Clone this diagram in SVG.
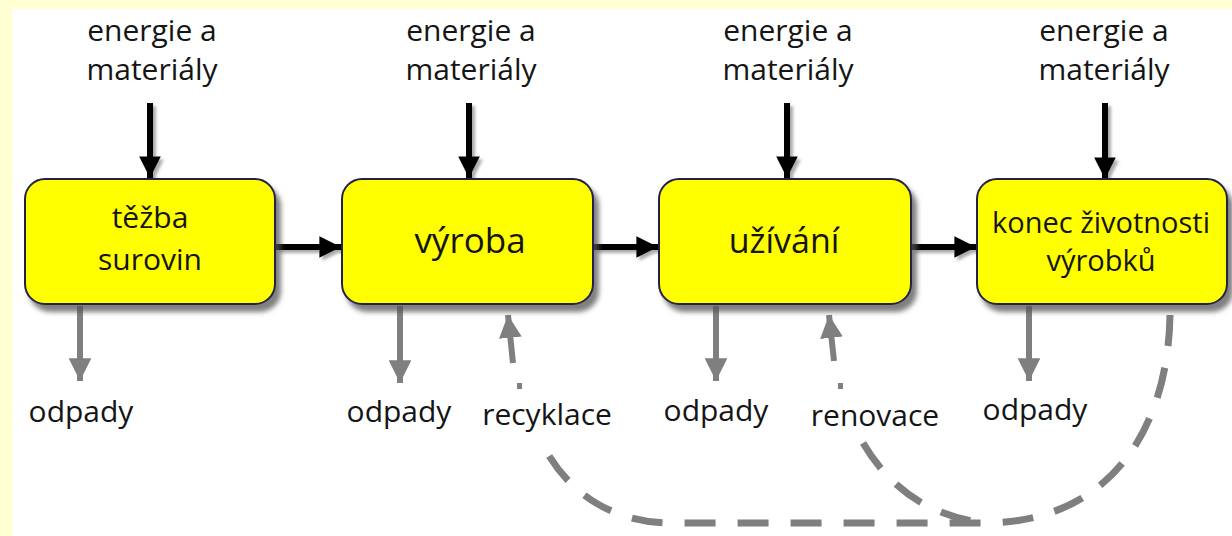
<svg xmlns="http://www.w3.org/2000/svg" width="1232" height="536" viewBox="0 0 1232 536">
  <defs>
    <style>
      .t { font-family: "Open Sans", "DejaVu Sans", sans-serif; fill: #151515; text-anchor: middle; }
      .top { font-size: 30px; }
      .lbl { font-size: 30px; }
      .box { fill: #FFFF00; stroke: #23234a; stroke-width: 2; filter: url(#sh); }
      .blk { stroke: #000; stroke-width: 6; fill: none; filter: url(#lsh); }
      .gry { stroke: #7f7f7f; stroke-width: 6; fill: none; }
      .dash { stroke: #7f7f7f; stroke-width: 7; fill: none; stroke-dasharray: 31 22; }
    </style>
    <filter id="sh" x="-10%" y="-10%" width="125%" height="130%">
      <feDropShadow dx="5" dy="7" stdDeviation="2.5" flood-color="#555" flood-opacity="0.75"/>
    </filter>
    <filter id="lsh" filterUnits="userSpaceOnUse" x="0" y="0" width="1232" height="536">
      <feDropShadow dx="3" dy="3" stdDeviation="1.5" flood-color="#555" flood-opacity="0.5"/>
    </filter>
    <marker id="ab" viewBox="0 0 10 10" refX="10" refY="5" markerWidth="3.6" markerHeight="3.6" orient="auto" markerUnits="strokeWidth">
      <path d="M0,0 L10,5 L0,10 z" fill="#000"/>
    </marker>
    <marker id="ag" viewBox="0 0 10 10" refX="10" refY="5" markerWidth="3.8" markerHeight="3.8" orient="auto" markerUnits="strokeWidth">
      <path d="M0,0 L10,5 L0,10 z" fill="#7f7f7f"/>
    </marker>
  </defs>

  <rect x="0" y="0" width="1232" height="536" fill="#FFFFD2"/>
  <rect x="12" y="9" width="1220" height="527" fill="#FFFFFF"/>

  <g id="connectors">
    <!-- inputs -->
    <line class="blk" x1="150" y1="103" x2="150" y2="178" marker-end="url(#ab)"/>
    <line class="blk" x1="469" y1="103" x2="469" y2="178" marker-end="url(#ab)"/>
    <line class="blk" x1="787" y1="103" x2="787" y2="178" marker-end="url(#ab)"/>
    <line class="blk" x1="1105" y1="103" x2="1105" y2="179" marker-end="url(#ab)"/>
    <!-- flow -->
    <line class="blk" x1="276" y1="247" x2="341" y2="247" marker-end="url(#ab)"/>
    <line class="blk" x1="594" y1="247" x2="658" y2="247" marker-end="url(#ab)"/>
    <line class="blk" x1="912" y1="247" x2="976" y2="247" marker-end="url(#ab)"/>
    <!-- waste -->
    <line class="gry" x1="80" y1="306" x2="80" y2="381" marker-end="url(#ag)"/>
    <line class="gry" x1="400" y1="306" x2="400" y2="383" marker-end="url(#ag)"/>
    <line class="gry" x1="716" y1="306" x2="716" y2="381" marker-end="url(#ag)"/>
    <line class="gry" x1="1029" y1="306" x2="1029" y2="381" marker-end="url(#ag)"/>
    <!-- recycling / renovation -->
    <line class="gry" x1="513" y1="363" x2="508" y2="315" marker-end="url(#ag)"/>
    <line class="gry" x1="517" y1="386" x2="522" y2="386" stroke-width="3"/>
    <line class="gry" x1="834" y1="361" x2="829" y2="315" marker-end="url(#ag)"/>
    <line class="gry" x1="838" y1="386" x2="843" y2="386" stroke-width="3"/>
    <path class="dash" d="M1170,315 C1168,430 1110,520 990,523 L672,523 C600,523 560,480 542,443"/>
    <path class="dash" d="M863,443 C885,480 920,515 985,523"/>
  </g>

  <g id="in1"><text class="t top" x="152" y="41">energie a</text><text class="t top" x="152" y="80">materiály</text></g>
  <g id="in2"><text class="t top" x="471" y="41">energie a</text><text class="t top" x="471" y="80">materiály</text></g>
  <g id="in3"><text class="t top" x="788" y="41">energie a</text><text class="t top" x="788" y="80">materiály</text></g>
  <g id="in4"><text class="t top" x="1104" y="41">energie a</text><text class="t top" x="1104" y="80">materiály</text></g>

  <g id="tezba">
    <rect class="box" x="25" y="179" width="250" height="125" rx="20"/>
    <text class="t" font-size="30" x="150" y="228">těžba</text>
    <text class="t" font-size="30" x="150" y="270">surovin</text>
  </g>
  <g id="vyroba">
    <rect class="box" x="342" y="179" width="251" height="125" rx="20"/>
    <text class="t" font-size="35" x="470" y="253">výroba</text>
  </g>
  <g id="uzivani">
    <rect class="box" x="659" y="179" width="252" height="125" rx="20"/>
    <text class="t" font-size="34" x="784" y="253">užívání</text>
  </g>
  <g id="konec">
    <rect class="box" x="977" y="179" width="250" height="125" rx="20"/>
    <text class="t" font-size="29" x="1101" y="233">konec životnosti</text>
    <text class="t" font-size="29" x="1101" y="271">výrobků</text>
  </g>

  <g id="labels">
    <text class="t lbl" x="81" y="422">odpady</text>
    <text class="t lbl" x="399" y="422">odpady</text>
    <text class="t lbl" x="547" y="425">recyklace</text>
    <text class="t lbl" x="716" y="421">odpady</text>
    <text class="t lbl" x="875" y="426">renovace</text>
    <text class="t lbl" x="1035" y="420">odpady</text>
  </g>
</svg>
